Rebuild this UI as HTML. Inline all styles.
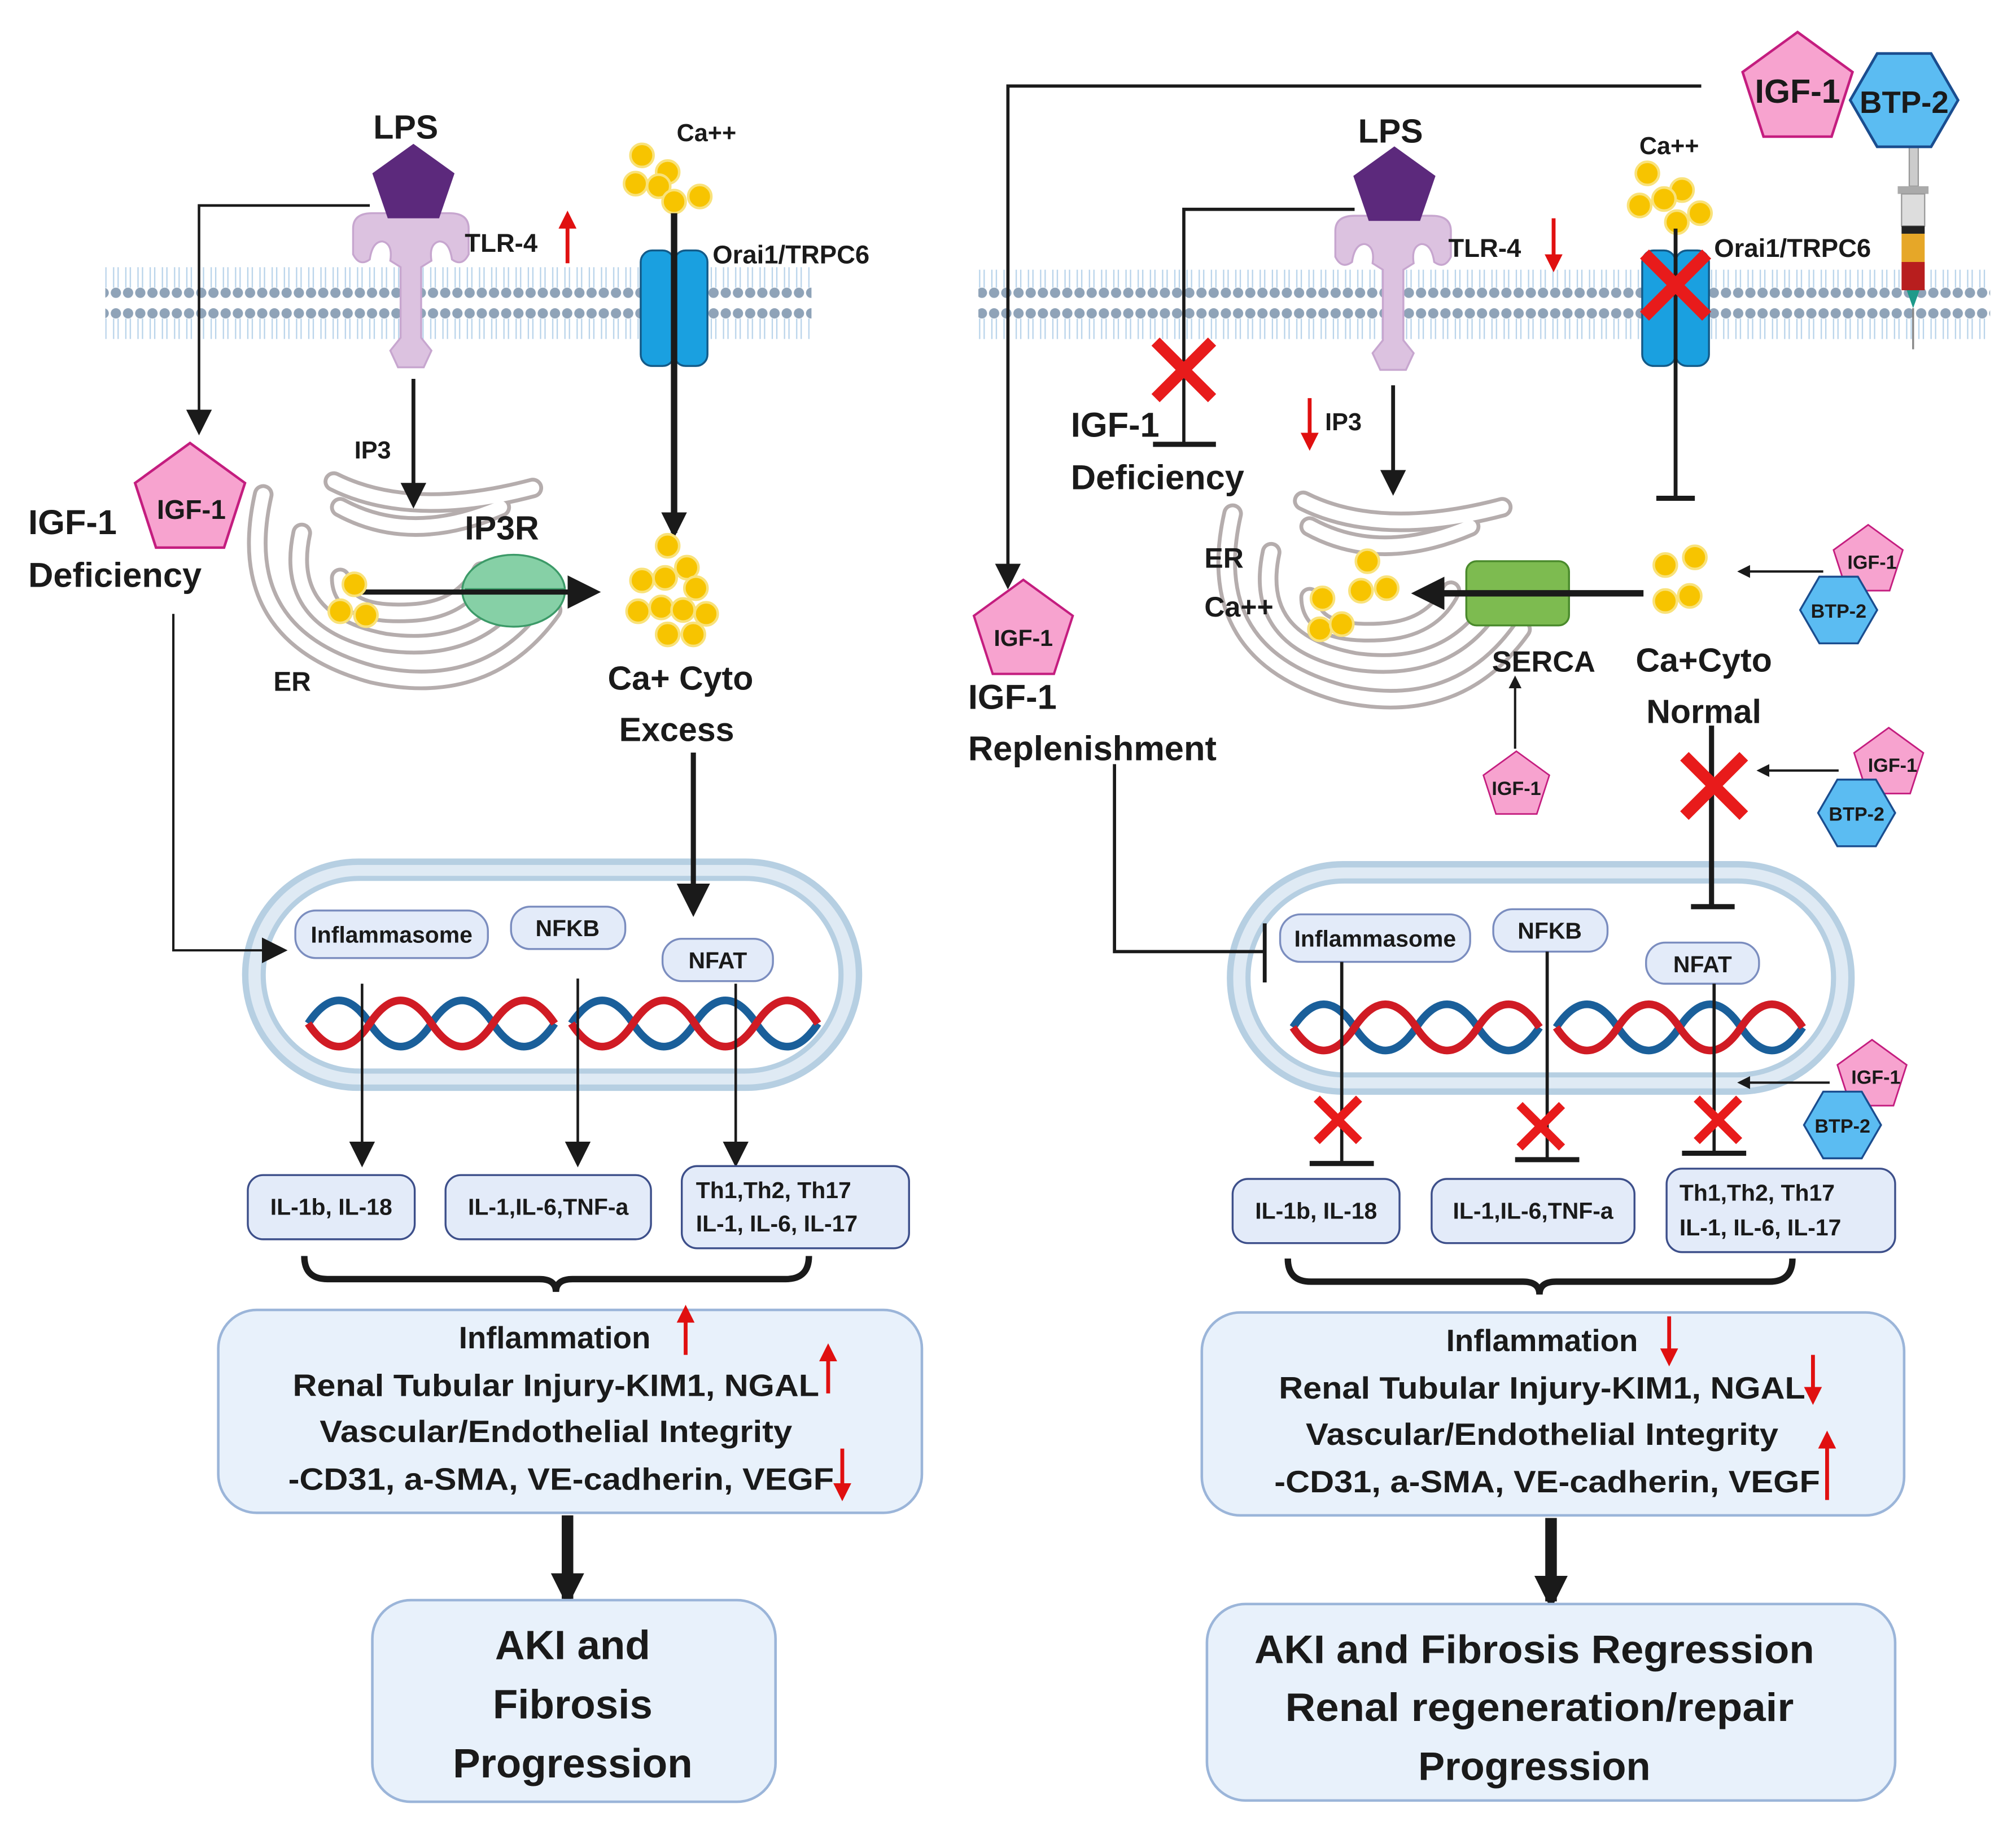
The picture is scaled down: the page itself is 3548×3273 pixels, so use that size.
<!DOCTYPE html>
<html><head><meta charset="utf-8"><style>
html,body{margin:0;padding:0;background:#fff}
svg{display:block}
text{font-family:"Liberation Sans",Arial,sans-serif;font-weight:bold;fill:#1a1a1a}
</style></head><body>
<svg width="3548" height="3273" viewBox="0 0 1560 1439" preserveAspectRatio="none" xmlns="http://www.w3.org/2000/svg">
<defs>
<marker id="ah" markerWidth="10" markerHeight="10" refX="8" refY="5" orient="auto" markerUnits="userSpaceOnUse" viewBox="0 0 10 10"><path d="M0,0 L10,5 L0,10Z" fill="#1a1a1a"/></marker>
<marker id="ahb" markerWidth="26" markerHeight="26" refX="20" refY="13" orient="auto" markerUnits="userSpaceOnUse" viewBox="0 0 26 26"><path d="M0,0 L26,13 L0,26Z" fill="#1a1a1a"/></marker>
<marker id="ahm" markerWidth="20" markerHeight="20" refX="16" refY="10" orient="auto" markerUnits="userSpaceOnUse" viewBox="0 0 20 20"><path d="M0,0 L20,10 L0,20Z" fill="#1a1a1a"/></marker>
<marker id="ahr" markerWidth="14" markerHeight="14" refX="10" refY="7" orient="auto" markerUnits="userSpaceOnUse" viewBox="0 0 14 14"><path d="M0,0 L14,7 L0,14Z" fill="#e01010"/></marker>
<pattern id="mem" x="0" y="0" width="9.5" height="60" patternUnits="userSpaceOnUse">
<circle cx="4.75" cy="4" r="4" fill="#8fa3b8"/>
<circle cx="4.75" cy="48" r="4" fill="#8fa3b8"/>
<path d="M3,8 L3,24 M6.5,8 L6.5,24 M3,28 L3,44 M6.5,28 L6.5,44" stroke="#b8d3ea" stroke-width="1"/>
</pattern>
<g id="pent"><path d="M0,-45 L42.8,-13.9 L26.5,36.4 L-26.5,36.4 L-42.8,-13.9Z" fill="#f7a3cf" stroke="#c41d7f" stroke-width="2"/></g>
<g id="hex"><path d="M-40,0 L-20,-34.6 L20,-34.6 L40,0 L20,34.6 L-20,34.6Z" fill="#5bbcf2" stroke="#1a4d8f" stroke-width="2"/></g>
<g id="ca"><circle r="9" fill="#f7c400" stroke="#f9e27a" stroke-width="2"/></g>
<g id="rx"><path d="M-22,-22 L22,22 M22,-22 L-22,22" stroke="#e81b1b" stroke-width="9"/></g>
<g id="er">
<g fill="none" stroke="#b5adad" stroke-width="16" stroke-linecap="round">
<path d="M-115,-70 Q-140,40 -30,70 Q60,90 110,20"/>
<path d="M-85,-40 Q-100,30 -20,45 Q50,55 85,5"/>
<path d="M-55,-5 Q-55,25 0,22 Q40,20 55,-10"/>
<path d="M-55,-60 Q0,-30 70,-60"/>
<path d="M-60,-80 Q0,-50 95,-75"/>
</g>
<g fill="none" stroke="#fff" stroke-width="10" stroke-linecap="round">
<path d="M-115,-70 Q-140,40 -30,70 Q60,90 110,20"/>
<path d="M-85,-40 Q-100,30 -20,45 Q50,55 85,5"/>
<path d="M-55,-5 Q-55,25 0,22 Q40,20 55,-10"/>
<path d="M-55,-60 Q0,-30 70,-60"/>
<path d="M-60,-80 Q0,-50 95,-75"/>
</g>
</g>
<g id="tlr" fill="#dcc2e0" stroke="#c7a6cf" stroke-width="1.5">
<path d="M-45,0 Q-45,-12 -30,-12 L30,-12 Q45,-12 45,0 L45,20 Q40,30 32,24 Q30,10 22,10 Q14,12 16,25 L8,30 L8,85 L16,95 L10,108 L-10,108 L-16,95 L-8,85 L-8,30 L-16,25 Q-14,12 -22,10 Q-30,10 -32,24 Q-40,30 -45,20Z"/>
</g>
<g id="chan"><rect x="-26" y="-45" width="26" height="90" rx="9" fill="#1aa0e0" stroke="#135a88" stroke-width="1.5"/><rect x="0" y="-45" width="26" height="90" rx="9" fill="#1aa0e0" stroke="#135a88" stroke-width="1.5"/></g>
<g id="dna" fill="none" stroke-width="6">
<path d="M0,0 q24,-36 48,0 t48,0 t48,0 t48,0" stroke="#1a5f9a"/>
<path d="M0,0 q24,36 48,0 t48,0 t48,0 t48,0" stroke="#d01b24"/>
</g>
</defs>

<!-- ============ LEFT PANEL ============ -->
<rect x="82" y="208" width="550" height="56" fill="url(#mem)"/>
<use href="#er" x="320" y="455"/>
<rect x="191" y="671" width="478" height="176" rx="88" fill="#dfeaf4" stroke="#b6cfe2" stroke-width="5"/>
<rect x="205" y="684" width="450" height="150" rx="75" fill="#fff" stroke="#b6cfe2" stroke-width="4"/>
<text x="316" y="108" font-size="26" text-anchor="middle">LPS</text>
<use href="#tlr" x="320" y="178"/>
<path d="M322,112 L354,135 L342,170 L302,170 L290,135Z" fill="#5c297c"/>
<text x="362" y="196" font-size="20">TLR-4</text>
<line x1="442" y1="205" x2="442" y2="168" stroke="#e01010" stroke-width="3" marker-end="url(#ahr)"/>
<polyline points="288,160 155,160 155,335" fill="none" stroke="#1a1a1a" stroke-width="2" marker-end="url(#ahm)"/>
<use href="#pent" transform="translate(148,390) scale(1)"/>
<text x="149" y="404" font-size="21" text-anchor="middle">IGF-1</text>
<text x="22" y="416" font-size="27">IGF-1</text>
<text x="22" y="457" font-size="27">Deficiency</text>
<polyline points="135,478 135,740 220,740" fill="none" stroke="#1a1a1a" stroke-width="1.8" marker-end="url(#ahm)"/>
<line x1="322" y1="295" x2="322" y2="392" stroke="#1a1a1a" stroke-width="3" marker-end="url(#ahm)"/>
<text x="276" y="357" font-size="19">IP3</text>
<text x="213" y="538" font-size="21">ER</text>
<ellipse cx="400" cy="460" rx="40" ry="28" fill="#86d0a6" stroke="#3c9a68" stroke-width="1.5"/>
<line x1="362" y1="460" x2="440" y2="460" stroke="#3c9a68" stroke-width="4"/>
<text x="362" y="420" font-size="26">IP3R</text>
<line x1="275" y1="461" x2="462" y2="461" stroke="#1a1a1a" stroke-width="4" marker-end="url(#ahb)"/>
<use href="#ca" x="276" y="455"/><use href="#ca" x="265" y="476"/><use href="#ca" x="285" y="479"/>
<text x="527" y="110" font-size="19">Ca++</text>
<use href="#ca" x="500" y="121"/><use href="#ca" x="520" y="134"/><use href="#ca" x="495" y="143"/><use href="#ca" x="513" y="145"/><use href="#ca" x="545" y="153"/><use href="#ca" x="525" y="157"/>
<use href="#chan" x="525" y="240"/>
<line x1="525" y1="166" x2="525" y2="415" stroke="#1a1a1a" stroke-width="5" marker-end="url(#ahm)"/>
<text x="555" y="205" font-size="20">Orai1/TRPC6</text>
<use href="#ca" x="520" y="425"/><use href="#ca" x="535" y="442"/><use href="#ca" x="500" y="452"/><use href="#ca" x="518" y="450"/><use href="#ca" x="542" y="458"/><use href="#ca" x="497" y="476"/><use href="#ca" x="515" y="473"/><use href="#ca" x="532" y="475"/><use href="#ca" x="550" y="478"/><use href="#ca" x="520" y="494"/><use href="#ca" x="540" y="494"/>
<text x="530" y="537" font-size="26" text-anchor="middle">Ca+ Cyto</text>
<text x="527" y="577" font-size="26" text-anchor="middle">Excess</text>
<line x1="540" y1="586" x2="540" y2="708" stroke="#1a1a1a" stroke-width="4" marker-end="url(#ahb)"/>
<use href="#dna" x="240" y="797"/><use href="#dna" x="445" y="797"/>
<rect x="230" y="709" width="150" height="37" rx="16" fill="#e3ebf9" stroke="#7b8dbf" stroke-width="1.5"/>
<text x="305" y="734" font-size="18" text-anchor="middle">Inflammasome</text>
<rect x="398" y="706" width="89" height="33" rx="15" fill="#e3ebf9" stroke="#7b8dbf" stroke-width="1.5"/>
<text x="442" y="729" font-size="18" text-anchor="middle">NFKB</text>
<rect x="516" y="731" width="86" height="33" rx="15" fill="#e3ebf9" stroke="#7b8dbf" stroke-width="1.5"/>
<text x="559" y="754" font-size="18" text-anchor="middle">NFAT</text>
<line x1="282" y1="766" x2="282" y2="905" stroke="#1a1a1a" stroke-width="2" marker-end="url(#ahm)"/>
<line x1="450" y1="762" x2="450" y2="905" stroke="#1a1a1a" stroke-width="2" marker-end="url(#ahm)"/>
<line x1="573" y1="766" x2="573" y2="905" stroke="#1a1a1a" stroke-width="2" marker-end="url(#ahm)"/>
<rect x="193" y="915" width="130" height="50" rx="12" fill="#e3ebf9" stroke="#3d4f8a" stroke-width="1.5"/>
<text x="258" y="946" font-size="18" text-anchor="middle">IL-1b, IL-18</text>
<rect x="347" y="915" width="160" height="50" rx="12" fill="#e3ebf9" stroke="#3d4f8a" stroke-width="1.5"/>
<text x="427" y="946" font-size="18" text-anchor="middle">IL-1,IL-6,TNF-a</text>
<rect x="531" y="908" width="177" height="64" rx="12" fill="#e3ebf9" stroke="#3d4f8a" stroke-width="1.5"/>
<text x="542" y="933" font-size="18">Th1,Th2, Th17</text>
<text x="542" y="959" font-size="18">IL-1, IL-6, IL-17</text>
<path d="M237,978 Q237,996 255,996 L420,996 Q433,996 433,1006 Q433,996 446,996 L612,996 Q630,996 630,978" fill="none" stroke="#1a1a1a" stroke-width="5"/>
<rect x="170" y="1020" width="548" height="158" rx="30" fill="#e8f1fb" stroke="#9bb5d9" stroke-width="2"/>
<text x="432" y="1050" font-size="24" text-anchor="middle">Inflammation</text>
<line x1="534" y1="1055" x2="534" y2="1020" stroke="#e01010" stroke-width="3" marker-end="url(#ahr)"/>
<text x="433" y="1087" font-size="24" text-anchor="middle" textLength="410" lengthAdjust="spacingAndGlyphs">Renal Tubular Injury-KIM1, NGAL</text>
<line x1="645" y1="1085" x2="645" y2="1050" stroke="#e01010" stroke-width="3" marker-end="url(#ahr)"/>
<text x="433" y="1123" font-size="24" text-anchor="middle" textLength="368" lengthAdjust="spacingAndGlyphs">Vascular/Endothelial Integrity</text>
<text x="437" y="1160" font-size="24" text-anchor="middle" textLength="425" lengthAdjust="spacingAndGlyphs">-CD31, a-SMA, VE-cadherin, VEGF</text>
<line x1="656" y1="1128" x2="656" y2="1165" stroke="#e01010" stroke-width="3" marker-end="url(#ahr)"/>
<line x1="442" y1="1180" x2="442" y2="1245" stroke="#1a1a1a" stroke-width="9" marker-end="url(#ahb)"/>
<rect x="290" y="1246" width="314" height="157" rx="30" fill="#e8f1fb" stroke="#9bb5d9" stroke-width="2"/>
<text x="446" y="1292" font-size="32" text-anchor="middle">AKI and</text>
<text x="446" y="1338" font-size="32" text-anchor="middle">Fibrosis</text>
<text x="446" y="1384" font-size="32" text-anchor="middle">Progression</text>

<!-- ============ RIGHT PANEL ============ -->
<rect x="762" y="210" width="788" height="56" fill="url(#mem)"/>
<use href="#er" x="1075" y="470"/>
<rect x="958" y="673" width="484" height="177" rx="88" fill="#dfeaf4" stroke="#b6cfe2" stroke-width="5"/>
<rect x="972" y="686" width="456" height="151" rx="75" fill="#fff" stroke="#b6cfe2" stroke-width="4"/>
<polyline points="1325,67 785,67 785,455" fill="none" stroke="#1a1a1a" stroke-width="2.5" marker-end="url(#ahm)"/>
<use href="#pent" transform="translate(797,492) scale(0.9)"/>
<text x="797" y="503" font-size="18" text-anchor="middle">IGF-1</text>
<text x="754" y="552" font-size="27">IGF-1</text>
<text x="754" y="592" font-size="27">Replenishment</text>
<rect x="1487" y="105" width="7" height="40" fill="#ccc" stroke="#999"/>
<rect x="1478" y="145" width="24" height="6" fill="#aaa"/>
<rect x="1481" y="151" width="18" height="25" fill="#ddd" stroke="#999"/>
<rect x="1481" y="176" width="18" height="6" fill="#222"/>
<rect x="1481" y="182" width="18" height="22" fill="#e6a728"/>
<rect x="1481" y="204" width="18" height="22" fill="#b81e1e"/>
<path d="M1485,226 L1495,226 L1490,240Z" fill="#1e9a8a"/>
<line x1="1490" y1="240" x2="1490" y2="272" stroke="#888" stroke-width="1.5"/>
<use href="#pent" transform="translate(1400,70) scale(1)"/>
<use href="#hex" transform="translate(1483,78) scale(1.05)"/>
<text x="1400" y="80" font-size="26" text-anchor="middle">IGF-1</text>
<text x="1483" y="88" font-size="24" text-anchor="middle">BTP-2</text>
<text x="1083" y="111" font-size="26" text-anchor="middle">LPS</text>
<use href="#tlr" x="1085" y="180"/>
<path d="M1086,114 L1118,137 L1106,172 L1066,172 L1054,137Z" fill="#5c297c"/>
<text x="1128" y="200" font-size="20">TLR-4</text>
<line x1="1210" y1="170" x2="1210" y2="208" stroke="#e01010" stroke-width="3" marker-end="url(#ahr)"/>
<polyline points="1055,163 922,163 922,345" fill="none" stroke="#1a1a1a" stroke-width="2.5"/>
<line x1="898" y1="346" x2="947" y2="346" stroke="#1a1a1a" stroke-width="4"/>
<use href="#rx" x="922" y="288"/>
<text x="834" y="340" font-size="27">IGF-1</text>
<text x="834" y="381" font-size="27">Deficiency</text>
<line x1="1020" y1="310" x2="1020" y2="347" stroke="#e01010" stroke-width="3" marker-end="url(#ahr)"/>
<text x="1032" y="335" font-size="19">IP3</text>
<line x1="1085" y1="300" x2="1085" y2="382" stroke="#1a1a1a" stroke-width="3" marker-end="url(#ahm)"/>
<text x="1300" y="120" font-size="19" text-anchor="middle">Ca++</text>
<use href="#ca" x="1283" y="135"/><use href="#ca" x="1310" y="148"/><use href="#ca" x="1277" y="160"/><use href="#ca" x="1296" y="155"/><use href="#ca" x="1324" y="166"/><use href="#ca" x="1306" y="173"/>
<use href="#chan" x="1305" y="240"/>
<line x1="1305" y1="178" x2="1305" y2="387" stroke="#1a1a1a" stroke-width="3"/>
<line x1="1290" y1="388" x2="1320" y2="388" stroke="#1a1a1a" stroke-width="4"/>
<use href="#rx" transform="translate(1305,222) scale(1.1)"/>
<text x="1335" y="200" font-size="20">Orai1/TRPC6</text>
<text x="938" y="442" font-size="22">ER</text>
<text x="938" y="480" font-size="22">Ca++</text>
<use href="#ca" x="1065" y="437"/><use href="#ca" x="1060" y="460"/><use href="#ca" x="1080" y="458"/><use href="#ca" x="1030" y="466"/><use href="#ca" x="1028" y="490"/><use href="#ca" x="1045" y="486"/>
<rect x="1142" y="437" width="80" height="50" rx="8" fill="#7dbb50" stroke="#4a8a2c" stroke-width="1.5"/>
<line x1="1142" y1="462" x2="1222" y2="462" stroke="#4a8a2c" stroke-width="3"/>
<line x1="1280" y1="462" x2="1105" y2="462" stroke="#1a1a1a" stroke-width="5" marker-end="url(#ahb)"/>
<use href="#ca" x="1297" y="440"/><use href="#ca" x="1320" y="434"/><use href="#ca" x="1297" y="468"/><use href="#ca" x="1316" y="464"/>
<text x="1162" y="523" font-size="23">SERCA</text>
<text x="1327" y="523" font-size="26" text-anchor="middle">Ca+Cyto</text>
<text x="1327" y="563" font-size="26" text-anchor="middle">Normal</text>
<line x1="1420" y1="445" x2="1355" y2="445" stroke="#1a1a1a" stroke-width="1.8" marker-end="url(#ah)"/>
<use href="#pent" transform="translate(1455,437) scale(0.63)"/><use href="#hex" transform="translate(1432,475) scale(0.75)"/>
<text x="1458" y="443" font-size="15" text-anchor="middle">IGF-1</text><text x="1432" y="481" font-size="15" text-anchor="middle">BTP-2</text>
<line x1="1180" y1="583" x2="1180" y2="528" stroke="#1a1a1a" stroke-width="1.8" marker-end="url(#ah)"/>
<use href="#pent" transform="translate(1181,612) scale(0.6)"/>
<text x="1181" y="619" font-size="15" text-anchor="middle">IGF-1</text>
<polyline points="868,595 868,741 985,741" fill="none" stroke="#1a1a1a" stroke-width="2.5"/>
<line x1="985" y1="719" x2="985" y2="765" stroke="#1a1a1a" stroke-width="3"/>
<line x1="1333" y1="565" x2="1333" y2="705" stroke="#1a1a1a" stroke-width="4"/>
<line x1="1317" y1="706" x2="1351" y2="706" stroke="#1a1a1a" stroke-width="4"/>
<use href="#rx" transform="translate(1335,612) scale(1.05)"/>
<line x1="1432" y1="600" x2="1370" y2="600" stroke="#1a1a1a" stroke-width="1.8" marker-end="url(#ah)"/>
<use href="#pent" transform="translate(1471,595) scale(0.63)"/><use href="#hex" transform="translate(1446,633) scale(0.75)"/>
<text x="1474" y="601" font-size="15" text-anchor="middle">IGF-1</text><text x="1446" y="639" font-size="15" text-anchor="middle">BTP-2</text>
<use href="#dna" x="1007" y="800"/><use href="#dna" x="1212" y="800"/>
<rect x="997" y="712" width="148" height="37" rx="16" fill="#e3ebf9" stroke="#7b8dbf" stroke-width="1.5"/>
<text x="1071" y="737" font-size="18" text-anchor="middle">Inflammasome</text>
<rect x="1163" y="708" width="89" height="33" rx="15" fill="#e3ebf9" stroke="#7b8dbf" stroke-width="1.5"/>
<text x="1207" y="731" font-size="18" text-anchor="middle">NFKB</text>
<rect x="1282" y="734" width="88" height="32" rx="15" fill="#e3ebf9" stroke="#7b8dbf" stroke-width="1.5"/>
<text x="1326" y="757" font-size="18" text-anchor="middle">NFAT</text>
<line x1="1045" y1="749" x2="1045" y2="905" stroke="#1a1a1a" stroke-width="2.5"/>
<line x1="1205" y1="741" x2="1205" y2="903" stroke="#1a1a1a" stroke-width="2.5"/>
<line x1="1335" y1="766" x2="1335" y2="897" stroke="#1a1a1a" stroke-width="2.5"/>
<line x1="1020" y1="906" x2="1070" y2="906" stroke="#1a1a1a" stroke-width="4"/>
<line x1="1180" y1="903" x2="1230" y2="903" stroke="#1a1a1a" stroke-width="4"/>
<line x1="1310" y1="898" x2="1360" y2="898" stroke="#1a1a1a" stroke-width="4"/>
<use href="#rx" transform="translate(1042,872) scale(0.75)"/>
<use href="#rx" transform="translate(1200,877) scale(0.75)"/>
<use href="#rx" transform="translate(1338,872) scale(0.75)"/>
<line x1="1425" y1="843" x2="1355" y2="843" stroke="#1a1a1a" stroke-width="1.8" marker-end="url(#ah)"/>
<use href="#pent" transform="translate(1458,838) scale(0.63)"/><use href="#hex" transform="translate(1435,876) scale(0.75)"/>
<text x="1461" y="844" font-size="15" text-anchor="middle">IGF-1</text><text x="1435" y="882" font-size="15" text-anchor="middle">BTP-2</text>
<rect x="960" y="918" width="130" height="50" rx="12" fill="#e3ebf9" stroke="#3d4f8a" stroke-width="1.5"/>
<text x="1025" y="949" font-size="18" text-anchor="middle">IL-1b, IL-18</text>
<rect x="1115" y="918" width="158" height="50" rx="12" fill="#e3ebf9" stroke="#3d4f8a" stroke-width="1.5"/>
<text x="1194" y="949" font-size="18" text-anchor="middle">IL-1,IL-6,TNF-a</text>
<rect x="1298" y="910" width="178" height="65" rx="12" fill="#e3ebf9" stroke="#3d4f8a" stroke-width="1.5"/>
<text x="1308" y="935" font-size="18">Th1,Th2, Th17</text>
<text x="1308" y="962" font-size="18">IL-1, IL-6, IL-17</text>
<path d="M1003,980 Q1003,998 1021,998 L1186,998 Q1199,998 1199,1008 Q1199,998 1212,998 L1378,998 Q1396,998 1396,980" fill="none" stroke="#1a1a1a" stroke-width="5"/>
<rect x="936" y="1022" width="547" height="158" rx="30" fill="#e8f1fb" stroke="#9bb5d9" stroke-width="2"/>
<text x="1201" y="1052" font-size="24" text-anchor="middle">Inflammation</text>
<line x1="1300" y1="1025" x2="1300" y2="1060" stroke="#e01010" stroke-width="3" marker-end="url(#ahr)"/>
<text x="1201" y="1089" font-size="24" text-anchor="middle" textLength="410" lengthAdjust="spacingAndGlyphs">Renal Tubular Injury-KIM1, NGAL</text>
<line x1="1412" y1="1055" x2="1412" y2="1090" stroke="#e01010" stroke-width="3" marker-end="url(#ahr)"/>
<text x="1201" y="1125" font-size="24" text-anchor="middle" textLength="368" lengthAdjust="spacingAndGlyphs">Vascular/Endothelial Integrity</text>
<line x1="1423" y1="1168" x2="1423" y2="1118" stroke="#e01010" stroke-width="3" marker-end="url(#ahr)"/>
<text x="1205" y="1162" font-size="24" text-anchor="middle" textLength="425" lengthAdjust="spacingAndGlyphs">-CD31, a-SMA, VE-cadherin, VEGF</text>
<line x1="1208" y1="1182" x2="1208" y2="1247" stroke="#1a1a1a" stroke-width="9" marker-end="url(#ahb)"/>
<rect x="940" y="1249" width="536" height="153" rx="30" fill="#e8f1fb" stroke="#9bb5d9" stroke-width="2"/>
<text x="1195" y="1295" font-size="31" text-anchor="middle" textLength="436" lengthAdjust="spacingAndGlyphs">AKI and Fibrosis Regression</text>
<text x="1199" y="1340" font-size="31" text-anchor="middle" textLength="396" lengthAdjust="spacingAndGlyphs">Renal regeneration/repair</text>
<text x="1195" y="1386" font-size="31" text-anchor="middle">Progression</text>
</svg>
</body></html>
